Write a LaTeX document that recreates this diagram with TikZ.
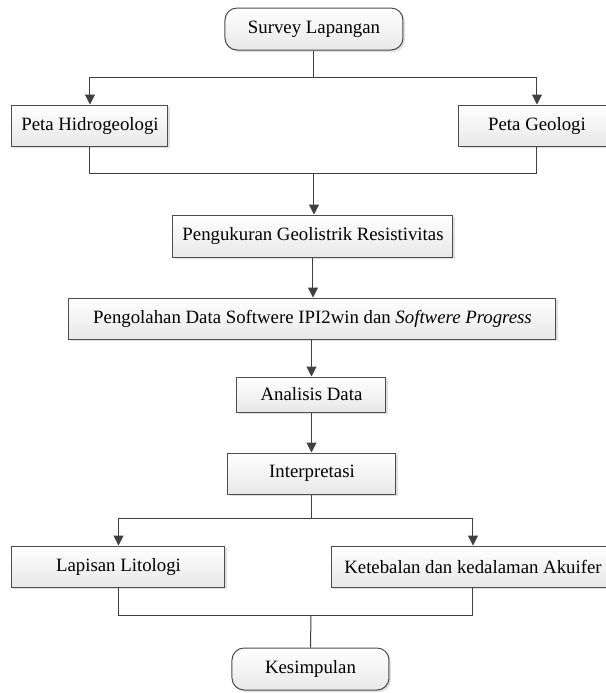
\documentclass[tikz,border=0pt]{standalone}
\usepackage{fontspec}
\setmainfont{Liberation Serif}
\usetikzlibrary{arrows.meta,shadows}

\tikzset{
  stepbox/.style={draw=gray!60!black, line width=0.5pt, top color=white, bottom color=gray!18,
    drop shadow={shadow xshift=1pt, shadow yshift=-1pt, fill=gray!40, opacity=0.6},
    minimum height=20.5pt, inner sep=0pt, font=\fontsize{9.4}{11}\selectfont},
  endbox/.style={stepbox, rounded corners=6pt, minimum height=21pt},
  link/.style={draw=black!75, line width=0.5pt},
  arrow/.style={link, -{Triangle[length=5pt,width=5pt]}},
}

\begin{document}
\begin{tikzpicture}[x=0.5pt, y=-0.5pt]
    % Page frame (same size as the reference)
    \clip (0,0) rectangle (606,693);

    % Start and end (rounded boxes)
    \node[endbox, minimum width=89pt] (survey) at (314,29) {Survey Lapangan};
    \node[endbox, minimum width=78.5pt] (simpul) at (310.5,669) {Kesimpulan};

    % Maps
    \node[stepbox, minimum width=78pt] (hidro) at (90,125.5) {Peta Hidrogeologi};
    \node[stepbox, minimum width=78pt] (geo) at (537,125.5) {Peta Geologi};

    % Main steps
    \node[stepbox, minimum width=140pt, minimum height=21pt] (ukur) at (313,236) {Pengukuran Geolistrik Resistivitas};
    \node[stepbox, minimum width=243.5pt] (olah) at (312.5,318.5) {Pengolahan Data Softwere IPI2win dan \textit{Softwere Progress}};
    \node[stepbox, minimum width=74.5pt, minimum height=17.5pt] (analisis) at (311.5,394.5) {Analisis Data};
    \node[stepbox, minimum width=84pt] (interp) at (312,473.5) {Interpretasi};

    % Results
    \node[stepbox, minimum width=106.5pt] (lapisan) at (118.5,566.5) {Lapisan Litologi};
    \node[stepbox, minimum width=141pt] (akuifer) at (473,566.5) {Ketebalan dan kedalaman Akuifer};

    % Branch and merge points
    \coordinate (fork1) at (314,77);
    \coordinate (merge1) at (314,173);
    \coordinate (fork2) at (312,518);
    \coordinate (merge2) at (311,615);

    % Connectors
    \draw[link] (survey.south) -- (fork1);
    \draw[arrow] (fork1) -| (hidro.north);
    \draw[arrow] (fork1) -| (geo.north);
    \draw[link] (hidro.south) |- (merge1);
    \draw[link] (geo.south) |- (merge1);
    \draw[arrow] (merge1) -- (merge1 |- ukur.north);
    \draw[arrow] (ukur.south) -- (ukur.south |- olah.north);
    \draw[arrow] (analisis.north |- olah.south) -- (analisis.north);
    \draw[arrow] (analisis.south) -- (analisis.south |- interp.north);
    \draw[link] (interp.south) -- (fork2);
    \draw[arrow] (fork2) -| (lapisan.north);
    \draw[arrow] (fork2) -| (akuifer.north);
    \draw[link] (lapisan.south) |- (merge2);
    \draw[link] (akuifer.south) |- (merge2);
    \draw[link] (merge2) -- (simpul.north);
\end{tikzpicture}
\end{document}
